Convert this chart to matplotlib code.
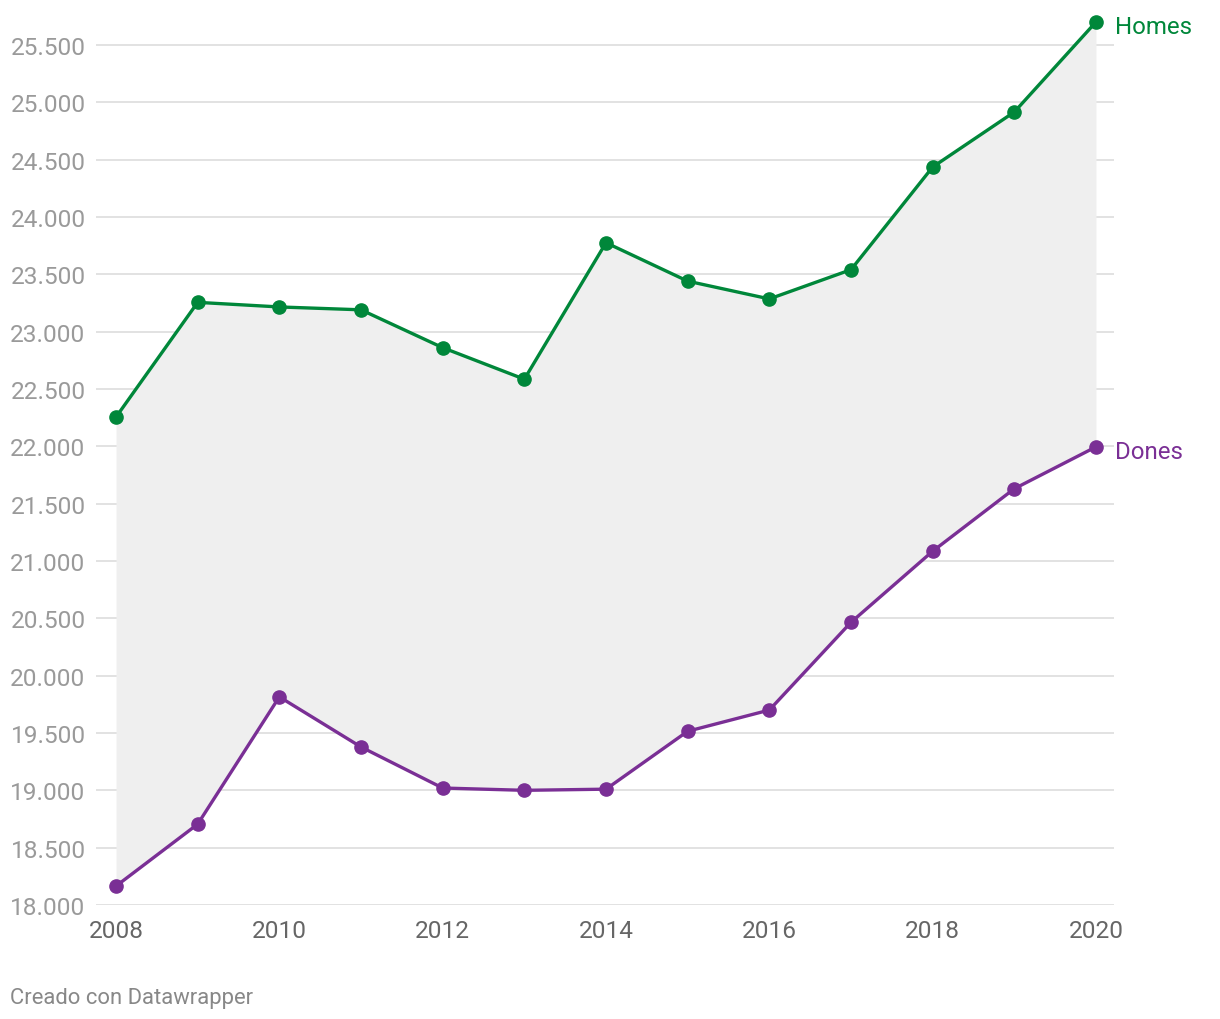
import matplotlib
matplotlib.use("Agg")
import matplotlib.pyplot as plt

years = list(range(2008, 2021))
homes = [22255, 23255, 23215, 23190, 22860, 22585, 23775, 23440, 23285, 23540, 24435, 24915, 25700]
dones = [18165, 18705, 19815, 19378, 19020, 19000, 19010, 19515, 19700, 20465, 21085, 21630, 21995]
yticks = list(range(18000, 26000, 500))
xticks = list(range(2008, 2021, 2))

plt.rcParams['font.family'] = ['Roboto', 'DejaVu Sans']
green = "#00873a"
purple = "#7a2f95"

fig = plt.figure(figsize=(12.2, 10.2), dpi=100)
W, H = 1220, 1020
bottom_px, top_px = 906, 11.5
ax = fig.add_axes([96 / W, 1 - bottom_px / H, (1114 - 96) / W, (bottom_px - top_px) / H])
ax.set_xlim(2008 - 20 / 81.58, 2020 + 18 / 81.58)
ax.set_ylim(18000, 25800)

ax.fill_between(years, dones, homes, color="#efefef", zorder=1, linewidth=0)
for y in yticks:
    ax.axhline(y, color="#e2e2e2", linewidth=1.4, zorder=0.5)

ax.plot(years, homes, color=green, linewidth=2.4, marker="o", markersize=9.5, zorder=3, clip_on=False)
ax.plot(years, dones, color=purple, linewidth=2.4, marker="o", markersize=9.5, zorder=3, clip_on=False)

ax.annotate("Homes", (2020, homes[-1]), xytext=(14, -3.5), textcoords="offset points",
            color=green, fontsize=17.3, va="center", ha="left")
ax.annotate("Dones", (2020, dones[-1]), xytext=(14, -3), textcoords="offset points",
            color=purple, fontsize=17.3, va="center", ha="left")

for s in ax.spines.values():
    s.set_visible(False)
ax.set_yticks(yticks)
ax.set_yticklabels([f"{v:,}".replace(",", ".") for v in yticks])
ax.set_xticks(xticks)
ax.set_xticklabels([str(x) for x in xticks])
ax.tick_params(axis="y", length=0, pad=7.5, labelsize=17.6, labelcolor="#9a9a9a")
ax.tick_params(axis="x", length=0, pad=10, labelsize=17.6, labelcolor="#666666")

fig.text(10 / W, 1 - 999 / H, "Creado con Datawrapper", fontsize=15.8, color="#888888", va="center", ha="left")

fig.savefig("out.png", dpi=100, facecolor="white")
